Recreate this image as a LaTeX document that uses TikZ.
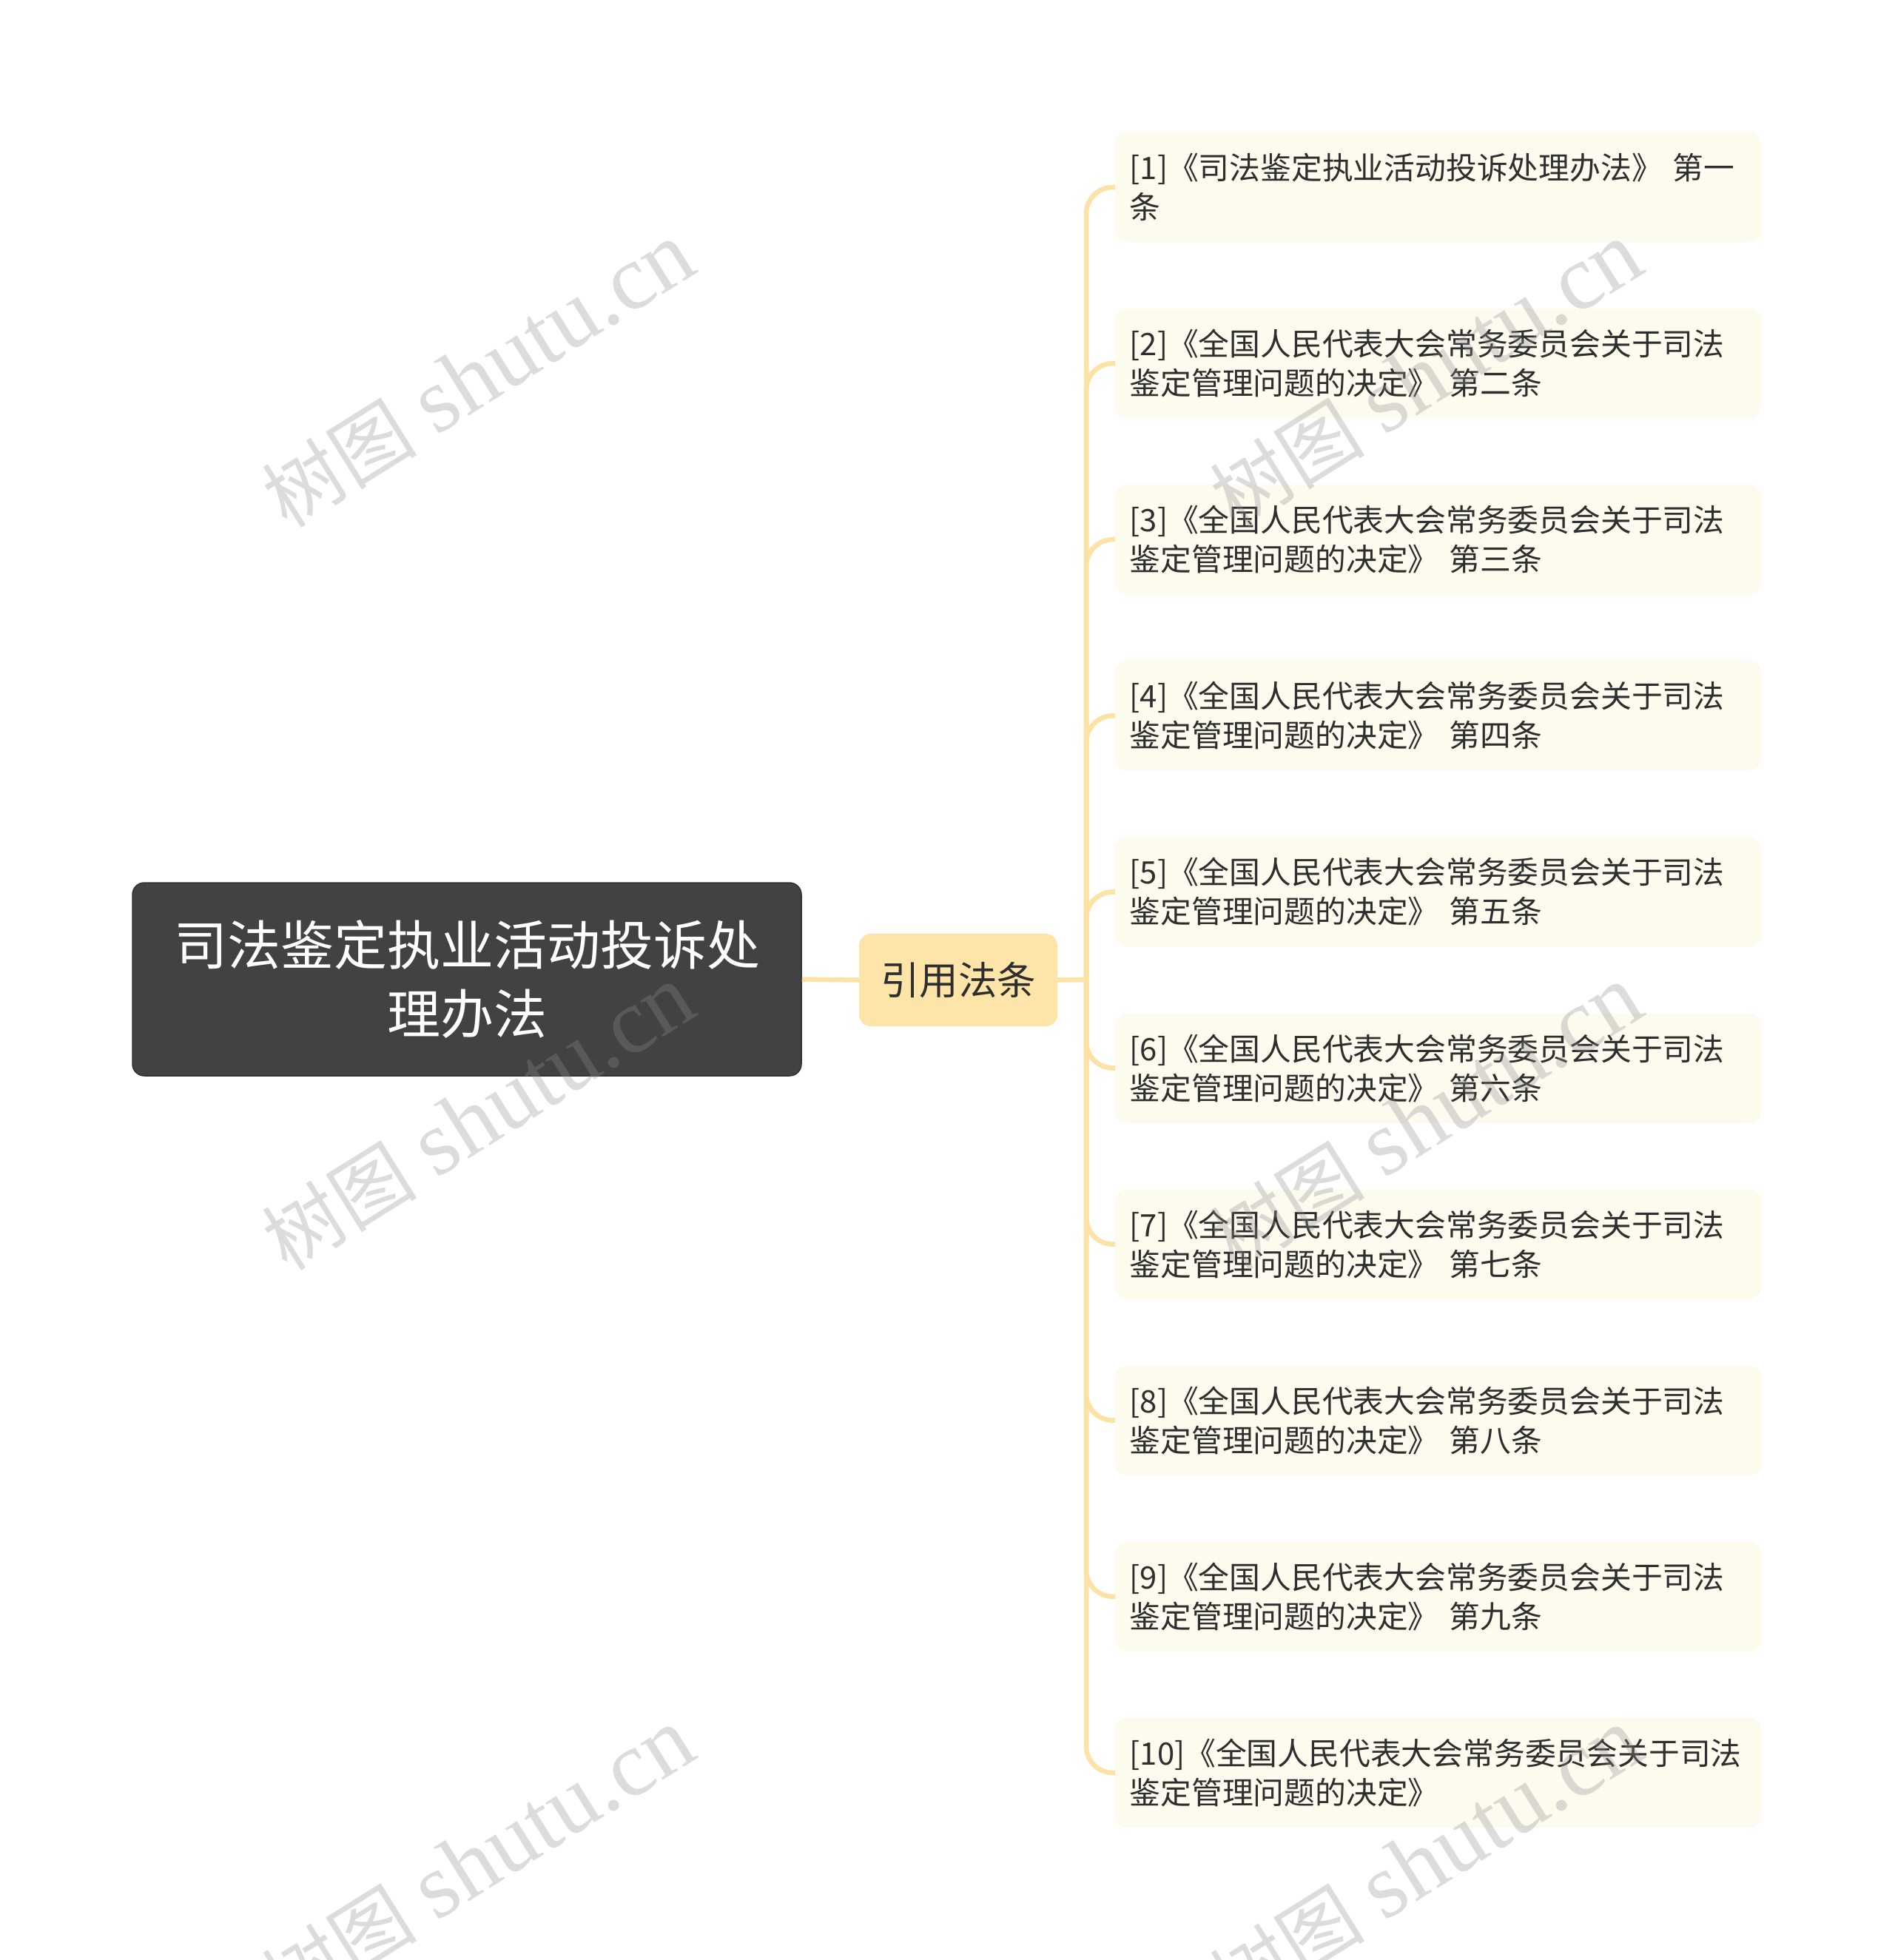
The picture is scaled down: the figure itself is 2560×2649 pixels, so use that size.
\documentclass[tikz,border=0pt]{standalone}
\usepackage{fontspec}
\setmainfont{Noto Sans CJK SC}
\newfontfamily\wmserif{Liberation Serif}
\newfontfamily\wmcjk{Noto Sans CJK SC}
\definecolor{rootfill}{HTML}{424242}
\definecolor{rootline}{HTML}{303030}
\definecolor{midfill}{HTML}{FDE4A9}
\definecolor{leaffill}{HTML}{FDFAEE}
\definecolor{conncol}{HTML}{FCE2A4}
\definecolor{txt}{HTML}{2E2E2E}
\definecolor{wmcol}{HTML}{8F8F8F}
\begin{document}
\begin{tikzpicture}[x=1pt,y=1pt,
  rootbox/.style={draw=rootline, line width=1.5pt, fill=rootfill, rounded corners=16pt,
    text=white, font=\fontsize{72}{93}\selectfont, align=center,
    minimum width=904pt, minimum height=261pt, inner sep=0pt},
  midbox/.style={fill=midfill, rounded corners=16pt, text=txt,
    font=\fontsize{52.5}{60}\selectfont, minimum width=268pt, minimum height=125pt, inner sep=0pt},
  leafbox/.style={fill=leaffill, rounded corners=16pt, text=txt, anchor=west,
    font=\fontsize{41.8}{53}\selectfont, align=left, text width=840pt,
    inner xsep=16.5pt, inner ysep=0pt, minimum height=148pt},
  conn/.style={draw=conncol, line width=6.5pt},
  elbow/.style={conn, rounded corners=36pt},
  wm/.style={text=wmcol, text opacity=0.31, rotate=32, inner sep=0pt}
]
\useasboundingbox (0,0) rectangle (2560,-2649);
\fill[white] (0,0) rectangle (2560,-2649);

\node[rootbox] (root) at (631,-1323.5) {司法鉴定执业活动投诉处\\理办法};
\node[midbox] (mid) at (1295,-1324.5) {引用法条};
\coordinate (jn) at (1468,-1324);

\node[leafbox] (l1) at (1507,-253.0) {\hspace{3pt}[1]《司法鉴定执业活动投诉处理办法》~第一\\\hspace*{3pt}条};
\node[leafbox] (l2) at (1507,-491.1) {\hspace{3pt}[2]《全国人民代表大会常务委员会关于司法\\\hspace*{3pt}鉴定管理问题的决定》~第二条};
\node[leafbox] (l3) at (1507,-729.2) {\hspace{3pt}[3]《全国人民代表大会常务委员会关于司法\\\hspace*{3pt}鉴定管理问题的决定》~第三条};
\node[leafbox] (l4) at (1507,-967.3) {\hspace{3pt}[4]《全国人民代表大会常务委员会关于司法\\\hspace*{3pt}鉴定管理问题的决定》~第四条};
\node[leafbox] (l5) at (1507,-1205.4) {\hspace{3pt}[5]《全国人民代表大会常务委员会关于司法\\\hspace*{3pt}鉴定管理问题的决定》~第五条};
\node[leafbox] (l6) at (1507,-1443.5) {\hspace{3pt}[6]《全国人民代表大会常务委员会关于司法\\\hspace*{3pt}鉴定管理问题的决定》~第六条};
\node[leafbox] (l7) at (1507,-1681.6) {\hspace{3pt}[7]《全国人民代表大会常务委员会关于司法\\\hspace*{3pt}鉴定管理问题的决定》~第七条};
\node[leafbox] (l8) at (1507,-1919.7) {\hspace{3pt}[8]《全国人民代表大会常务委员会关于司法\\\hspace*{3pt}鉴定管理问题的决定》~第八条};
\node[leafbox] (l9) at (1507,-2157.8) {\hspace{3pt}[9]《全国人民代表大会常务委员会关于司法\\\hspace*{3pt}鉴定管理问题的决定》~第九条};
\node[leafbox] (l10) at (1507,-2396.0) {\hspace{3pt}[10]《全国人民代表大会常务委员会关于司法\\\hspace*{3pt}鉴定管理问题的决定》};

\draw[conn] (root.east) -- (mid.west);
\draw[conn] (mid.east) -- (jn);
\foreach \n in {l1,l2,l3,l4,l5,l6,l7,l8,l9,l10}{
  \draw[elbow] (jn) |- (\n.west);
}

\foreach \p [count=\i] in {(646,-507),(646,-1511),(646,-2515),(1927,-507),(1927,-1511),(1927,-2515)}{
  \node[wm] (wm\i) at \p {{\wmcjk\fontsize{105}{110}\selectfont 树图}\hspace{28pt}{\wmserif\fontsize{125}{130}\selectfont shutu.cn}};
}
\end{tikzpicture}
\end{document}
